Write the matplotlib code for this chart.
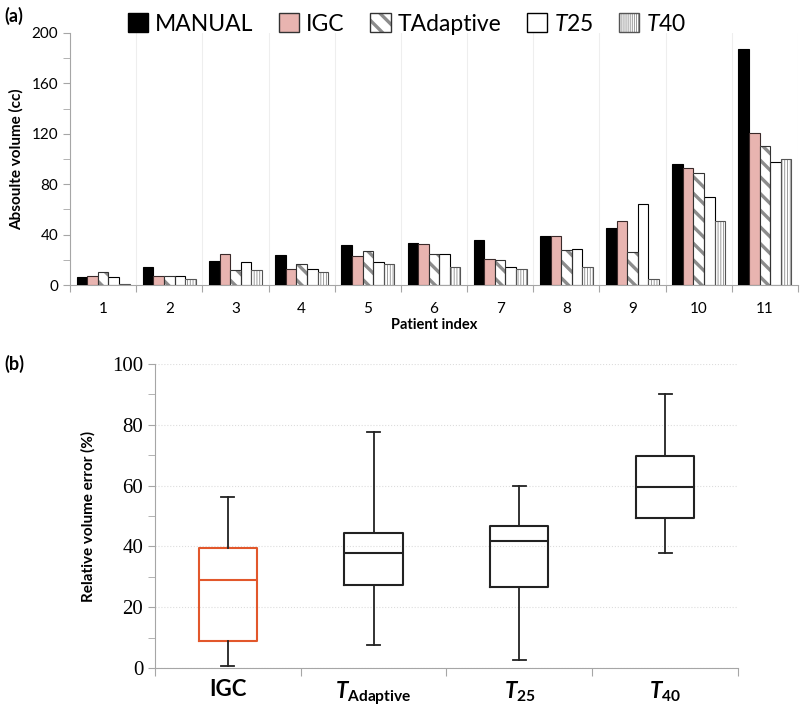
import numpy as np
import matplotlib.pyplot as plt
from matplotlib.patches import Patch, Rectangle
from matplotlib.legend_handler import HandlerTuple

plt.rcParams['font.family'] = ['Lato', 'DejaVu Sans']
plt.rcParams['mathtext.fontset'] = 'custom'
plt.rcParams['mathtext.it'] = 'Lato:italic:bold'
plt.rcParams['mathtext.bf'] = 'Lato:bold'
plt.rcParams['mathtext.sf'] = 'Lato:italic'
plt.rcParams['mathtext.rm'] = 'Lato'

# panel (a): absolute volume per patient (cc)
patients = [str(i) for i in range(1, 12)]
manual = [6, 14, 19, 23.5, 32, 33, 35.5, 38.5, 45, 96, 187]
igc = [7.5, 7, 25, 13, 23, 32.5, 20.5, 38.5, 51, 92.5, 121]
t_adaptive = [10, 7, 12, 17, 27, 24.5, 20, 27.5, 26, 88.5, 110]
t25 = [6, 7, 18, 13, 18, 24.5, 14, 28.5, 64, 70, 98]
t40 = [1, 4.5, 12, 10, 16.5, 14, 13, 14, 5, 50.5, 100]

# panel (b): relative volume error (%) box stats
box_names = ["IGC", r"$\mathit{T}_{\mathbf{Adaptive}}$",
             r"$\mathit{T}_{\mathbf{25}}$", r"$\mathit{T}_{\mathbf{40}}$"]
whislo = [0.7, 7.6, 2.6, 37.8]
q1 = [9, 27.3, 26.6, 49.3]
med = [29, 37.8, 41.8, 59.5]
q3 = [39.5, 44.4, 46.7, 69.7]
whishi = [56.3, 77.6, 59.9, 90]

PINK = '#e8b4b0'
HATCH_GRAY = '#8c8c8c'
AX_GRAY = '#a6a6a6'
ORANGE = '#e2572b'
DIAG, VERT = '\\\\', '||||||'


def hatch_lw(patches):
    # per-artist hatch width when the matplotlib version supports it
    for p in patches:
        if not hasattr(p, 'set_hatch_linewidth'):
            continue
        h = p.get_hatch() or ''
        if '\\' in h:
            p.set_hatch_linewidth(2.4)
        elif '|' in h:
            p.set_hatch_linewidth(0.6)


fig = plt.figure(figsize=(8.03, 7.09), dpi=100)

# ---------------- (a) ----------------
ax1 = fig.add_axes([0.0872, 0.598, 0.9066, 0.3555])
x = np.arange(len(patients)) + 0.5
w = 0.16

ax1.bar(x - 2 * w, manual, w, color='black', edgecolor='black', lw=0.8, zorder=3)
ax1.bar(x - w, igc, w, color=PINK, edgecolor='#3a2a2a', lw=0.8, zorder=3)
ax1.bar(x, t_adaptive, w, color='white', edgecolor=HATCH_GRAY, hatch=DIAG, lw=0, zorder=3)
ax1.bar(x, t_adaptive, w, fill=False, edgecolor='#333333', lw=0.8, zorder=4)
ax1.bar(x + w, t25, w, color='white', edgecolor='black', lw=0.8, zorder=3)
ax1.bar(x + 2 * w, t40, w, color='white', edgecolor=HATCH_GRAY, hatch=VERT, lw=0, zorder=3)
ax1.bar(x + 2 * w, t40, w, fill=False, edgecolor='#555555', lw=0.8, zorder=4)
hatch_lw(ax1.patches)

ax1.set_xlim(0, len(patients))
ax1.set_ylim(0, 200)
ax1.set_yticks(np.arange(0, 201, 40))
ax1.set_yticks(np.arange(20, 200, 40), minor=True)
ax1.set_xticks(np.arange(0, len(patients) + 1))
ax1.set_xticklabels([])
ax1.set_xticks(x, minor=True)
ax1.set_xticklabels(patients, minor=True)
ax1.tick_params(axis='x', which='minor', length=0, labelsize=11, pad=12)
ax1.tick_params(axis='x', which='major', length=5, color=AX_GRAY)
ax1.tick_params(axis='y', which='both', length=5, color=AX_GRAY, labelsize=11)
ax1.grid(axis='x', which='major', color='#eeeeee', lw=0.8, zorder=0)
for s in ['top', 'right']:
    ax1.spines[s].set_visible(False)
for s in ['left', 'bottom']:
    ax1.spines[s].set_color(AX_GRAY)
ax1.set_ylabel("Absoulte volume (cc)", fontsize=11, fontweight='bold', labelpad=6)
ax1.set_xlabel("Patient index", fontsize=10.5, fontweight='bold', labelpad=2)

h_manual = Patch(facecolor='black', edgecolor='black')
h_igc = Patch(facecolor=PINK, edgecolor='#333333')
h_tad = (Patch(facecolor='white', edgecolor=HATCH_GRAY, hatch=DIAG, lw=0),
         Patch(fill=False, edgecolor='#333333'))
h_t25 = Patch(facecolor='white', edgecolor='black')
h_t40 = (Patch(facecolor='white', edgecolor=HATCH_GRAY, hatch=VERT + '||', lw=0),
         Patch(fill=False, edgecolor='#555555'))
leg = fig.legend([h_manual, h_igc, h_tad, h_t25, h_t40],
                 ["MANUAL", "IGC", "TAdaptive", r"$\mathsf{T}$25", r"$\mathsf{T}$40"],
                 handler_map={tuple: HandlerTuple(ndivide=1)},
                 loc='center', bbox_to_anchor=(0.507, 0.966), ncol=5, frameon=False,
                 fontsize=16.5, handlelength=0.9, handleheight=0.9, handletextpad=0.3,
                 columnspacing=1.1, borderaxespad=0)
hatch_lw(leg.findobj(match=Rectangle))

fig.text(0.006, 0.978, "(a)", fontsize=13, fontweight='bold', va='center')

# ---------------- (b) ----------------
ax2 = fig.add_axes([0.193, 0.0578, 0.726, 0.4288])
stats = []
for i in range(len(box_names)):
    stats.append({'whislo': whislo[i], 'q1': q1[i], 'med': med[i],
                  'q3': q3[i], 'whishi': whishi[i], 'fliers': []})
pos = np.arange(len(box_names)) + 0.5
bp = ax2.bxp(stats, positions=pos, widths=0.4, showfliers=False, patch_artist=False,
             boxprops=dict(color='#222222', lw=1.5),
             medianprops=dict(color='#222222', lw=1.5),
             whiskerprops=dict(color='#222222', lw=1.3),
             capprops=dict(color='#222222', lw=1.3), capwidths=0.09)
bp['boxes'][0].set_color(ORANGE)
bp['medians'][0].set_color(ORANGE)
for ln in bp['boxes'] + bp['medians'] + bp['whiskers'] + bp['caps']:
    ln.set_zorder(3)

ax2.set_xlim(0, len(box_names))
ax2.set_ylim(0, 100)
ax2.set_yticks(np.arange(0, 101, 20))
ax2.set_yticks(np.arange(10, 100, 20), minor=True)
ax2.set_yticklabels([str(v) for v in range(0, 101, 20)],
                    fontfamily='Liberation Serif', fontsize=15)
ax2.set_xticks(np.arange(0, len(box_names) + 1))
ax2.set_xticklabels([])
ax2.set_xticks(pos, minor=True)
ax2.set_xticklabels(box_names, minor=True, fontsize=16, fontweight='bold')
ax2.tick_params(axis='x', which='minor', length=0, pad=8)
ax2.tick_params(axis='x', which='major', length=6, color=AX_GRAY)
ax2.tick_params(axis='y', which='both', length=5, color=AX_GRAY)
ax2.grid(axis='y', which='major', color='#dddddd', lw=0.8, ls=':', zorder=0)
for s in ['top', 'right']:
    ax2.spines[s].set_visible(False)
for s in ['left', 'bottom']:
    ax2.spines[s].set_color(AX_GRAY)
ax2.set_ylabel("Relative volume error (%)", fontsize=11, fontweight='bold', labelpad=12)

fig.text(0.006, 0.487, "(b)", fontsize=13, fontweight='bold', va='center')

fig.savefig("out.png", dpi=100)
